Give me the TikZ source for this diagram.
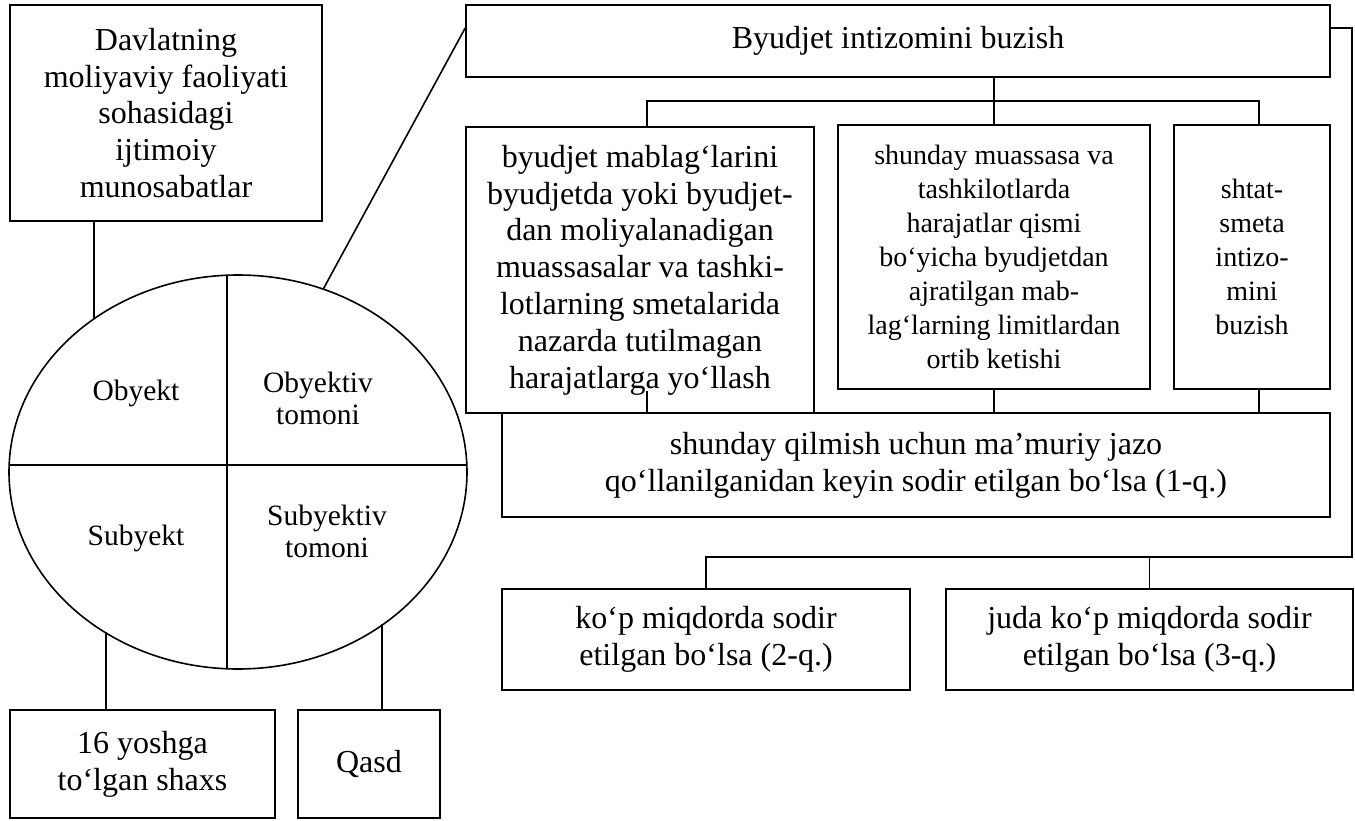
\documentclass[tikz,border=0pt]{standalone}
\usepackage{fontspec}
\setmainfont{Liberation Serif}
\usetikzlibrary{shapes.geometric}
\tikzset{
  blok/.style={draw, line width=1.6pt, align=center, inner sep=0pt, font=\fontsize{32}{36.8}\selectfont},
  blokkichik/.style={blok, font=\fontsize{28}{34}\selectfont},
  qism/.style={align=center, inner sep=0pt, font=\fontsize{29.5}{32}\selectfont},
  chiziq/.style={line width=1.6pt}
}
\begin{document}
\begin{tikzpicture}[x=1pt, y=-1pt]
  \useasboundingbox (0,0) rectangle (1355,821);

  % Left column: object box
  \node[blok, minimum width=312pt, minimum height=216pt] (davlat) at (166,113) {Davlatning\\moliyaviy faoliyati\\sohasidagi\\ijtimoiy\\munosabatlar};

  % Ellipse split into four parts
  \node[draw, ellipse, line width=1.6pt, minimum width=458pt, minimum height=394pt, inner sep=0pt] (tarkib) at (238,472) {};
  \begin{scope}
    \clip (238,472) ellipse (229pt and 197pt);
    \draw[chiziq] (227,260) -- (227,690);
    \draw[chiziq] (0,465) -- (480,465);
  \end{scope}
  \node[qism] (obyekt) at (136,393) {Obyekt};
  \node[qism] (obtomon) at (318,398) {Obyektiv\\tomoni};
  \node[qism] (subyekt) at (136,538) {Subyekt};
  \node[qism] (subtomon) at (327,531) {Subyektiv\\tomoni};

  % Bottom boxes
  \node[blok, minimum width=265pt, minimum height=108pt] (yosh) at (142.5,764) {16 yoshga\\to‘lgan shaxs};
  \node[blok, minimum width=142pt, minimum height=108pt] (qasd) at (369,764) {Qasd};

  % Right part: objective side
  \node[blok, minimum width=864pt, minimum height=72pt] (byudjet) at (898,41) {Byudjet intizomini buzish};
  \node[blok, minimum width=348pt, minimum height=286pt] (mablag) at (640,270) {byudjet mablag‘larini\\byudjetda yoki byudjet-\\dan moliyalanadigan\\muassasalar va tashki-\\lotlarning smetalarida\\nazarda tutilmagan\\harajatlarga yo‘llash};
  \node[blokkichik, minimum width=312pt, minimum height=264pt] (limit) at (994,257) {shunday muassasa va\\tashkilotlarda\\harajatlar qismi\\bo‘yicha byudjetdan\\ajratilgan mab-\\lag‘larning limitlardan\\ortib ketishi};
  \node[blokkichik, minimum width=156pt, minimum height=264pt] (shtat) at (1252,257) {shtat-\\smeta\\intizo-\\mini\\buzish};
  \node[blok, minimum width=828pt, minimum height=104pt] (qilmish) at (916,465) {shunday qilmish uchun ma’muriy jazo\\qo‘llanilganidan keyin sodir etilgan bo‘lsa (1-q.)};
  \node[blok, minimum width=408pt, minimum height=101pt] (kop) at (706,639.5) {ko‘p miqdorda sodir\\etilgan bo‘lsa (2-q.)};
  \node[blok, minimum width=407pt, minimum height=101pt] (judakop) at (1149.5,639.5) {juda ko‘p miqdorda sodir\\etilgan bo‘lsa (3-q.)};

  % Connectors
  \draw[chiziq] ([xshift=-72pt]davlat.south) -- ++(0,96);
  \draw[chiziq] ([xshift=-36.5pt]yosh.north) -- ++(0,-77);
  \draw[chiziq] ([xshift=13pt]qasd.north) -- ++(0,-85);
  \draw[chiziq] (tarkib.65) -- ([yshift=13pt]byudjet.west);

  \coordinate (shina) at (0,101);
  \coordinate (mtepa) at ([xshift=7pt]mablag.north);
  \coordinate (mpast) at ([xshift=7pt]mablag.south);
  \coordinate (stepa) at ([xshift=7pt]shtat.north);
  \coordinate (spast) at ([xshift=7pt]shtat.south);
  \draw[chiziq] (limit.north) -- (limit.north |- byudjet.south);
  \draw[chiziq] (mtepa) |- (shina -| stepa) -- (stepa);
  \draw[chiziq] ([yshift=23pt]mpast) -- (mpast);
  \draw[chiziq] (limit.south) -- (limit.south |- qilmish.north);
  \draw[chiziq] (spast) -- (spast |- qilmish.north);

  \coordinate (burilish) at (1352,557);
  \draw[chiziq] ([yshift=13pt]byudjet.east) -| (burilish) -| (kop.north);
  \draw[chiziq] (judakop.north) -- (judakop.north |- burilish);
\end{tikzpicture}
\end{document}
